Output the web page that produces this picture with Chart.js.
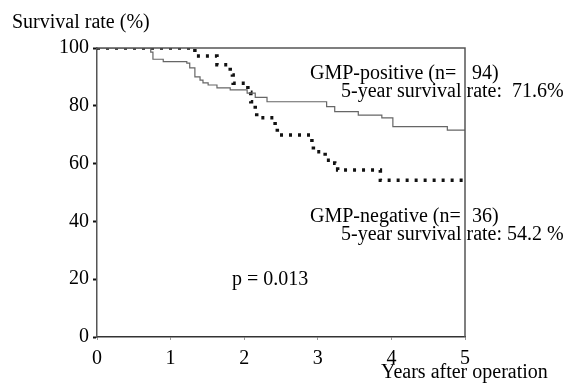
<!DOCTYPE html>
<html>
<head>
<meta charset="utf-8">
<script src="https://cdn.jsdelivr.net/npm/chart.js@4.4.0/dist/chart.umd.min.js"></script>
<style>
  html, body { margin: 0; padding: 0; background: #fff; }
  #wrap { width: 572px; height: 387px; }
</style>
</head>
<body>
<div id="wrap"><canvas id="km"></canvas></div>
<script>
// Kaplan-Meier steps (years, survival %)
const posTimes    = [0, 0.73, 0.76, 0.90, 1.22, 1.26, 1.33, 1.40, 1.44, 1.51, 1.63, 1.81, 2.04, 2.15, 2.31, 3.12, 3.23, 3.55, 3.87, 4.02, 4.76, 5.0];
const posSurvival = [100, 98.6, 96.1, 95.3, 94.8, 93.1, 90.0, 88.9, 87.9, 87.2, 86.2, 85.5, 84.4, 82.9, 81.4, 79.7, 78.0, 76.8, 75.8, 72.8, 71.6, 71.6];

const negTimes    = [0, 1.33, 1.63, 1.81, 1.84, 1.85, 2.05, 2.09, 2.15, 2.17, 2.42, 2.45, 2.92, 2.94, 3.10, 3.23, 3.27, 3.85, 5.0];
const negSurvival = [100, 97.2, 94.2, 91.8, 90.7, 87.8, 84.7, 81.4, 78.5, 75.9, 72.2, 69.9, 66.4, 64.1, 61.2, 60.1, 57.8, 54.2, 54.2];

const xTicks = [0, 1, 2, 3, 4, 5];
const yTicks = [0, 20, 40, 60, 80, 100];

const FONT = "'Liberation Serif', 'Times New Roman', serif";

function toPoints(xs, ys) {
  return xs.map((x, i) => ({ x: x, y: ys[i] }));
}

// frame on top/right plus free text labels
const extras = {
  id: 'extras',
  afterDatasetsDraw(chart) {
    const { ctx, chartArea: a } = chart;
    ctx.save();
    ctx.strokeStyle = '#555';
    ctx.lineWidth = 1.5;
    ctx.beginPath();
    ctx.moveTo(a.left, a.top);
    ctx.lineTo(a.right, a.top);
    ctx.lineTo(a.right, a.bottom);
    ctx.stroke();

    ctx.fillStyle = '#000';
    ctx.font = '20px ' + FONT;
    ctx.textAlign = 'left';
    ctx.textBaseline = 'alphabetic';
    ctx.fillText('Survival rate (%)', 12, 28);
    ctx.fillText('Years after operation', 381, 378);
    ctx.fillText('GMP-positive (n=', 310, 79);
    ctx.fillText('94)', 472, 79);
    ctx.fillText('5-year survival rate:  71.6%', 341, 97);
    ctx.fillText('GMP-negative (n=', 310, 222);
    ctx.fillText('36)', 472, 222);
    ctx.fillText('5-year survival rate: 54.2 %', 341, 240);
    ctx.fillText('p = 0.013', 232, 285);
    ctx.restore();
  }
};

new Chart(document.getElementById('km'), {
  type: 'line',
  data: {
    datasets: [
      {
        label: 'GMP-positive',
        data: toPoints(posTimes, posSurvival),
        stepped: true,
        borderColor: '#666',
        borderWidth: 1.2,
        pointRadius: 0,
        fill: false
      },
      {
        label: 'GMP-negative',
        data: toPoints(negTimes, negSurvival),
        stepped: true,
        borderColor: '#111',
        borderWidth: 3.5,
        borderDash: [3, 6],
        pointRadius: 0,
        fill: false
      }
    ]
  },
  options: {
    responsive: true,
    maintainAspectRatio: false,
    animation: false,
    layout: { padding: { left: 0, top: 48, right: 107, bottom: 0 } },
    plugins: {
      legend: { display: false },
      tooltip: { enabled: false }
    },
    scales: {
      x: {
        type: 'linear',
        min: 0,
        max: 5,
        afterFit(scale) { scale.height = 50; },
        afterBuildTicks(scale) { scale.ticks = xTicks.map(v => ({ value: v })); },
        ticks: { color: '#000', font: { family: FONT, size: 20 }, padding: 7 },
        grid: { drawOnChartArea: false, drawTicks: true, tickLength: 3, tickColor: '#999' },
        border: { display: true, color: '#333', width: 1.5 }
      },
      y: {
        min: 0,
        max: 100,
        afterFit(scale) { scale.width = 97; },
        afterBuildTicks(scale) { scale.ticks = yTicks.map(v => ({ value: v })); },
        ticks: { color: '#000', font: { family: FONT, size: 20 }, padding: 4 },
        grid: { drawOnChartArea: false, drawTicks: true, tickLength: 4, tickColor: '#111', tickWidth: 2 },
        border: { display: true, color: '#555', width: 1.5 }
      }
    }
  },
  plugins: [extras]
});
</script>
</body>
</html>
